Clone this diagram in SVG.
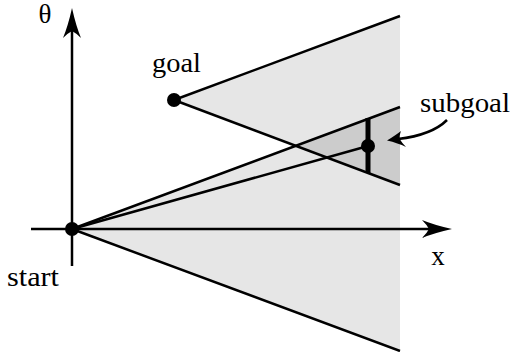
<svg xmlns="http://www.w3.org/2000/svg" width="514" height="352" viewBox="0 0 514 352">
<style>
.ln{stroke:#000;stroke-width:2.5;fill:none;stroke-linecap:butt}
.lbl{font-family:"Liberation Serif","Times New Roman",serif;font-size:27px;fill:#000}
.dot{fill:#000}
.light{fill:#e6e6e6}
.dark{fill:#cccccc}
</style>
<g id="regions">
<polygon class="light" points="174,100 400,16 400,185"/>
<polygon class="light" points="72,229 400,107 400,351"/>
<polygon class="dark" points="295.3,145.5 400,107 400,185"/>
</g>
<g id="connectors">
<line class="ln" x1="174" y1="100" x2="400" y2="16"/>
<line class="ln" x1="174" y1="100" x2="400" y2="185"/>
<line class="ln" x1="72" y1="229" x2="400" y2="107"/>
<line class="ln" x1="72" y1="229" x2="400" y2="351"/>
<line class="ln" x1="72" y1="229" x2="368" y2="146"/>
<line class="ln" x1="31" y1="229" x2="430" y2="229"/>
<line class="ln" x1="72" y1="266" x2="72" y2="30"/>
<path d="M72,8 Q76,26 81,38 Q76,33 72,31 Q68,33 63,38 Q68,26 72,8 Z" fill="#000"/>
<path d="M452,229 Q434,233 422,238 Q427,233 429,229 Q427,225 422,220 Q434,225 452,229 Z" fill="#000"/>
<line x1="368" y1="118" x2="368" y2="173" stroke="#000" stroke-width="5"/>
<path class="ln" d="M447,120 Q432,135 398,139"/>
<path d="M387,140.5 Q396,135 401,131 Q399,136 400,139.5 Q402,143 406,147 Q398,143 387,140.5 Z" fill="#000"/>
</g>
<g id="start">
<circle class="dot" cx="72" cy="229" r="7"/>
<text class="lbl" x="7" y="286" textLength="52" lengthAdjust="spacingAndGlyphs">start</text>
</g>
<g id="goal">
<circle class="dot" cx="174" cy="100" r="7"/>
<text class="lbl" x="152" y="72" textLength="49" lengthAdjust="spacingAndGlyphs">goal</text>
</g>
<g id="subgoal">
<circle class="dot" cx="368" cy="146" r="7"/>
<text class="lbl" x="420" y="112" textLength="90" lengthAdjust="spacingAndGlyphs">subgoal</text>
</g>
<g id="axis-labels">
<text class="lbl" x="45" y="23" text-anchor="middle">θ</text>
<text class="lbl" x="438" y="265" text-anchor="middle">x</text>
</g>
</svg>
